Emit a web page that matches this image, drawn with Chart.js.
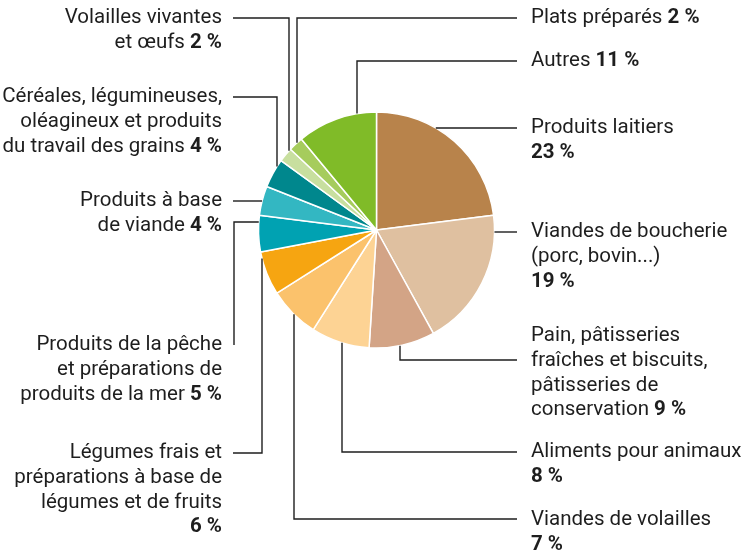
<!DOCTYPE html>
<html>
<head>
  <meta charset="utf-8">
  <title>Répartition par secteur</title>
  <script src="https://cdn.jsdelivr.net/npm/chart.js@4.4.0/dist/chart.umd.min.js"></script>
  <style>
    html, body { margin: 0; padding: 0; background: #fff; }
    #wrap { width: 752px; height: 553px; }
  </style>
</head>
<body>
  <div id="wrap"><canvas id="pie" width="752" height="553"></canvas></div>

  <script>
    // Secteurs dans le sens horaire à partir de midi
    const categories = [
      'Produits laitiers',
      'Viandes de boucherie (porc, bovin...)',
      'Pain, pâtisseries fraîches et biscuits, pâtisseries de conservation',
      'Aliments pour animaux',
      'Viandes de volailles',
      'Légumes frais et préparations à base de légumes et de fruits',
      'Produits de la pêche et préparations de produits de la mer',
      'Produits à base de viande',
      'Céréales, légumineuses, oléagineux et produits du travail des grains',
      'Volailles vivantes et œufs',
      'Plats préparés',
      'Autres'
    ];
    const shares = [23, 19, 9, 8, 7, 6, 5, 4, 4, 2, 2, 11];
    const sliceColors = [
      '#b8834b', '#dfc0a0', '#d3a486', '#fdd394', '#fbc26c', '#f6a511',
      '#00a2b2', '#33b7c2', '#00878d', '#c8df9f', '#a6cc5d', '#80bb28'
    ];

    // Texte des étiquettes ligne par ligne ; '' = pourcentage seul sur sa ligne
    const labelLines = [
      ['Produits laitiers', ''],
      ['Viandes de boucherie', '(porc, bovin...)', ''],
      ['Pain, pâtisseries', 'fraîches et biscuits,', 'pâtisseries de', 'conservation'],
      ['Aliments pour animaux', ''],
      ['Viandes de volailles', ''],
      ['Légumes frais et', 'préparations à base de', 'légumes et de fruits', ''],
      ['Produits de la pêche', 'et préparations de', 'produits de la mer'],
      ['Produits à base', 'de viande'],
      ['Céréales, légumineuses,', 'oléagineux et produits', 'du travail des grains'],
      ['Volailles vivantes', 'et œufs'],
      ['Plats préparés'],
      ['Autres']
    ];

    // Placement des étiquettes et tracé des lignes de rappel
    const labelLayout = [
      { side: 'right', y: 128, leader: { y: 128 } },
      { side: 'right', y: 232, leader: { y: 232 } },
      { side: 'right', y: 336, leader: { y: 360, x: 400 } },
      { side: 'right', y: 452, leader: { y: 452, x: 342 } },
      { side: 'right', y: 520, leader: { y: 519, x: 294 } },
      { side: 'left',  y: 453, leader: { y: 453, x: 262 } },
      { side: 'left',  y: 345, leader: { y: 345, x: 234, y2: 222 } },
      { side: 'left',  y: 201, leader: { y: 201 } },
      { side: 'left',  y: 97,  leader: { y: 97, x: 277 } },
      { side: 'left',  y: 18,  leader: { y: 18, x: 289 } },
      { side: 'right', y: 18,  leader: { y: 18, x: 297 } },
      { side: 'right', y: 61,  leader: { y: 61, x: 357 } }
    ];

    const FONT = 'Roboto, "Liberation Sans", sans-serif';
    const FONT_SIZE = 20.5;
    const LINE_H = 24.7;
    const RIGHT_TEXT_X = 531, RIGHT_LINE_X = 517;
    const LEFT_TEXT_X = 222, LEFT_LINE_X = 233;

    function pct(v) { return v + '\u00a0%'; }

    // Étiquettes et lignes de rappel dessinées après les secteurs
    const calloutPlugin = {
      id: 'callouts',
      afterDatasetsDraw(chart) {
        const ctx = chart.ctx;
        const arc = chart.getDatasetMeta(0).data[0];
        const cx = arc.x, cy = arc.y, r = arc.outerRadius;

        ctx.save();
        ctx.strokeStyle = '#1e1e1e';
        ctx.lineWidth = 1.4;
        ctx.textBaseline = 'middle';
        ctx.fillStyle = '#1e1e1e';

        labelLayout.forEach((lay, i) => {
          const right = lay.side === 'right';
          const L = lay.leader;
          const sx = right ? RIGHT_LINE_X : LEFT_LINE_X;

          // ligne de rappel
          ctx.beginPath();
          if (L.y2 !== undefined) {
            const ex = cx - Math.sqrt(r * r - (L.y2 - cy) * (L.y2 - cy));
            ctx.moveTo(L.x, L.y);
            ctx.lineTo(L.x, L.y2);
            ctx.lineTo(ex, L.y2);
          } else if (L.x !== undefined) {
            const dy = Math.sqrt(r * r - (L.x - cx) * (L.x - cx));
            const ey = L.y < cy ? cy - dy : cy + dy;
            ctx.moveTo(sx, L.y);
            ctx.lineTo(L.x, L.y);
            ctx.lineTo(L.x, ey);
          } else {
            const dx = Math.sqrt(r * r - (L.y - cy) * (L.y - cy));
            ctx.moveTo(sx, L.y);
            ctx.lineTo(right ? cx + dx : cx - dx, L.y);
          }
          ctx.stroke();

          // texte, pourcentage en gras
          const lines = labelLines[i];
          lines.forEach((txt, j) => {
            const y = lay.y + j * LINE_H;
            const runs = [];
            if (txt) runs.push({ t: txt, b: false });
            if (j === lines.length - 1) {
              if (txt) runs.push({ t: ' ', b: false });
              runs.push({ t: pct(shares[i]), b: true });
            }
            let w = 0;
            runs.forEach(run => {
              ctx.font = (run.b ? 'bold ' : '') + FONT_SIZE + 'px ' + FONT;
              run.w = ctx.measureText(run.t).width;
              w += run.w;
            });
            let x = right ? RIGHT_TEXT_X : LEFT_TEXT_X - w;
            runs.forEach(run => {
              ctx.font = (run.b ? 'bold ' : '') + FONT_SIZE + 'px ' + FONT;
              ctx.textAlign = 'left';
              ctx.fillText(run.t, x, y);
              x += run.w;
            });
          });
        });
        ctx.restore();
      }
    };

    const pieChart = new Chart(document.getElementById('pie'), {
      type: 'pie',
      data: {
        labels: categories,
        datasets: [{
          data: shares,
          backgroundColor: sliceColors,
          borderColor: '#ffffff',
          borderWidth: 1.5
        }]
      },
      options: {
        responsive: false,
        animation: false,
        radius: 118,
        layout: { padding: { left: 258, right: 257, top: 112, bottom: 205 } },
        plugins: {
          legend: { display: false },
          tooltip: { enabled: false }
        }
      },
      plugins: [calloutPlugin]
    });
  </script>
</body>
</html>
